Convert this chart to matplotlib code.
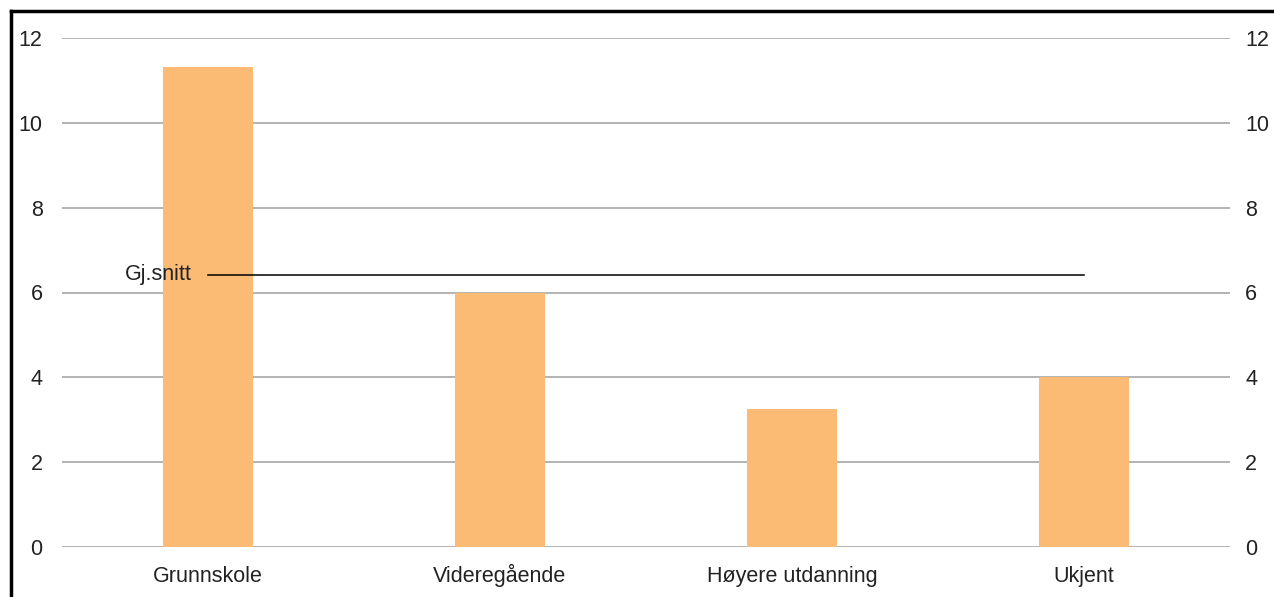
import matplotlib.pyplot as plt
from matplotlib.lines import Line2D

# Data
categories = ["Grunnskole", "Videregående", "Høyere utdanning", "Ukjent"]
values = [11.32, 6.0, 3.25, 4.0]
average = 6.42
average_label = "Gj.snitt"
y_ticks = [0, 2, 4, 6, 8, 10, 12]

plt.rcParams["font.family"] = ["Liberation Sans", "DejaVu Sans"]
FS = 15.5

fig = plt.figure(figsize=(12.74, 5.97), dpi=100)
ax = fig.add_axes([62 / 1274, 1 - 547 / 597, (1230 - 62) / 1274, (547 - 38) / 597])

x = list(range(len(categories)))

# Gridlines
for t in y_ticks:
    ax.axhline(t, color="#b3b3b3", linewidth=1.4, zorder=1)

# Bars
ax.bar(x, values, width=0.31, color="#fcbb74", zorder=2)

# Average line from first to last category
ax.plot([x[0], x[-1]], [average, average], color="black", linewidth=1.1, zorder=3)
ax.annotate(average_label, xy=(x[0], average), xytext=(-12, 0),
            textcoords="offset points", ha="right", va="center",
            fontsize=FS, color="#222222", zorder=4)

ax.set_xlim(-0.5, len(categories) - 0.5)
ax.set_ylim(0, 12)
ax.set_yticks(y_ticks)
ax.set_yticklabels([str(t) for t in y_ticks])
ax.set_xticks(x)
ax.set_xticklabels(categories, va="baseline")

ax.tick_params(axis="y", length=0, labelsize=FS, labelcolor="#222222", pad=14)
ax.tick_params(axis="x", length=0, labelsize=FS, labelcolor="#222222", pad=25)

# Right-hand axis repeats the same scale
ax2 = ax.twinx()
ax2.set_ylim(ax.get_ylim())
ax2.set_yticks(y_ticks)
ax2.set_yticklabels([str(t) for t in y_ticks])
ax2.tick_params(axis="y", length=0, labelsize=FS, labelcolor="#222222", pad=11)

for a in (ax, ax2):
    for s in a.spines.values():
        s.set_visible(False)

# Frame around the picture (left and top edges visible in the reference)
fig.add_artist(Line2D([11 / 1274, 11 / 1274], [0, 1 - 11 / 597], color="black", linewidth=2.5))
fig.add_artist(Line2D([11 / 1274, 1], [1 - 11 / 597, 1 - 11 / 597], color="black", linewidth=2.5))

fig.savefig("out.png", dpi=100)
